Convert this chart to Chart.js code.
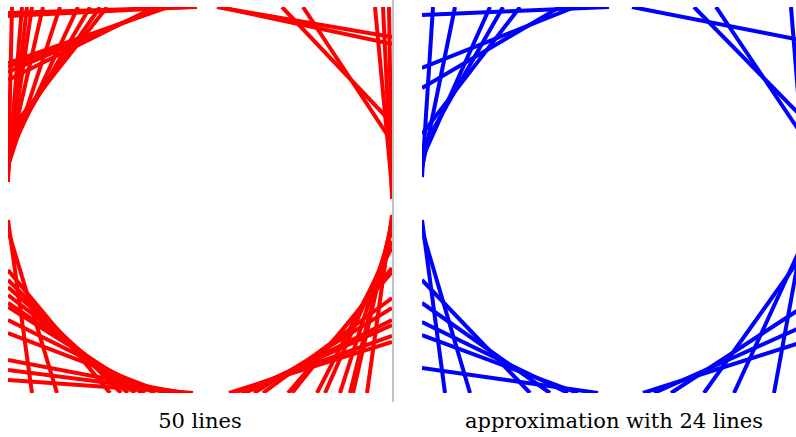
<!DOCTYPE html>
<html>
<head>
<meta charset="utf-8">
<title>Lines around a circle</title>
<script src="https://cdn.jsdelivr.net/npm/chart.js@4.4.1/dist/chart.umd.min.js"></script>
<style>
    body {
        margin: 0;
        width: 796px;
        height: 437px;
        overflow: hidden;
        background: #ffffff;
        position: relative;
    }
    .panel {
        position: absolute;
        top: 7px;
        width: 384px;
        height: 386px;
    }
    #leftPanel { left: 8px; }
    #rightPanel { left: 422px; }
    .divider {
        position: absolute;
        left: 392px;
        top: 0;
        width: 2px;
        height: 402px;
        background: #c4c4c4;
    }
    .caption {
        position: absolute;
        top: 409px;
        width: 384px;
        text-align: center;
        font-family: "DejaVu Serif", serif;
        font-size: 21px;
        color: #000;
        white-space: nowrap;
    }
    #leftCaption { left: 8px; }
    #rightCaption { left: 422px; }
</style>
</head>
<body>
<div class="panel" id="leftPanel"><canvas id="leftChart" width="384" height="386"></canvas></div>
<div class="divider"></div>
<div class="panel" id="rightPanel"><canvas id="rightChart" width="384" height="386"></canvas></div>
<div class="caption" id="leftCaption"></div>
<div class="caption" id="rightCaption"></div>

<script>
// captions under each panel
const leftTitle = '50 lines';
const rightTitle = 'approximation with 24 lines';

// axis range, circle centred at 0
const xRange = [-192, 192];
const yRange = [-193, 193];

// left panel: 50 lines, start (x1,y1) -> end (x2,y2)
const leftX1 = [-192, -192, -192, -192, -192, -192, -93, -100, -110, -122, -140, -157, -168, -173, -178, -188,
    17, 19, 82, 103, 175, 183, 189,
    -192, -192, -192, -192, -192, -192, -192, -192, -192, -192, -192, -192, -192,
    192, 192, 192, 192, 192, 192, 192, 192, 192, 192, 192, 192, 192, 192];
const leftY1 = [187, 184, 137, 133, 128, 120, 193, 193, 193, 193, 193, 193, 193, 193, 193, 193,
    193, 193, 193, 193, 193, 193, 193,
    -20, -30, -70, -80, -87, -95, -103, -107, -120, -133, -160, -170, -180,
    -15, -22, -24, -30, -41, -47, -68, -72, -98, -108, -120, -125, -136, -142];
const leftX2 = [-3, -10, -32, -35, -40, -45, -192, -192, -192, -192, -192, -192, -192, -192, -192, -192,
    192, 192, 192, 192, 192, 192, 192,
    -168, -143, -90, -79, -72, -65, -58, -55, -45, -35, -18, -12, -7,
    167, 153, 150, 140, 125, 117, 92, 88, 63, 54, 45, 41, 33, 29];
const leftY2 = [193, 193, 193, 193, 193, 193, 67, 61, 52, 43, 34, 40, 32, 28, 24, 18,
    163, 156, 77, 58, 12, 6, 1,
    -193, -193, -193, -193, -193, -193, -193, -193, -193, -193, -193, -193, -193,
    -193, -193, -193, -193, -193, -193, -193, -193, -193, -193, -193, -193, -193, -193];

// right panel: the approximation
const rightX1 = [-192, -192, -192, -94, -111, -124, -159, -181,
    18, 80, 102, 177,
    -192, -192, -192, -192, -192, -192, -192,
    29, 40, 57, 90, 120, 160];
const rightY1 = [185, 132, 112, 193, 193, 193, 193, 193,
    193, 193, 193, 193,
    -20, -30, -80, -103, -122, -135, -168,
    -193, -193, -193, -193, -193, -193];
const rightX2 = [-5, -39, -54, -192, -192, -192, -192, -192,
    192, 192, 192, 192,
    -169, -144, -84, -64, -46, -36, -16,
    192, 192, 192, 192, 192, 192];
const rightY2 = [193, 193, 193, 66, 51, 41, 32, 23,
    159, 79, 59, 8,
    -193, -193, -193, -193, -193, -193, -193,
    -141, -125, -105, -50, -36, -18];

function buildSegments(x1, y1, x2, y2, color) {
    const datasets = [];
    for (let i = 0; i < x1.length; i++) {
        datasets.push({
            data: [{ x: x1[i], y: y1[i] }, { x: x2[i], y: y2[i] }],
            showLine: true,
            borderColor: color,
            backgroundColor: color,
            borderWidth: 4,
            pointRadius: 0,
            pointHoverRadius: 0,
            fill: false
        });
    }
    return datasets;
}

function renderPanel(canvas, datasets) {
    return new Chart(canvas.getContext('2d'), {
        type: 'scatter',
        data: { datasets: datasets },
        options: {
            responsive: false,
            animation: false,
            devicePixelRatio: 1,
            layout: { padding: 0 },
            plugins: {
                legend: { display: false },
                tooltip: { enabled: false },
                title: { display: false }
            },
            scales: {
                x: { type: 'linear', min: xRange[0], max: xRange[1], display: false },
                y: { type: 'linear', min: yRange[0], max: yRange[1], display: false }
            }
        }
    });
}

document.addEventListener('DOMContentLoaded', function () {
    document.getElementById('leftCaption').textContent = leftTitle;
    document.getElementById('rightCaption').textContent = rightTitle;

    renderPanel(document.getElementById('leftChart'), buildSegments(leftX1, leftY1, leftX2, leftY2, '#ff0000'));
    renderPanel(document.getElementById('rightChart'), buildSegments(rightX1, rightY1, rightX2, rightY2, '#0000ff'));
});
</script>
</body>
</html>
